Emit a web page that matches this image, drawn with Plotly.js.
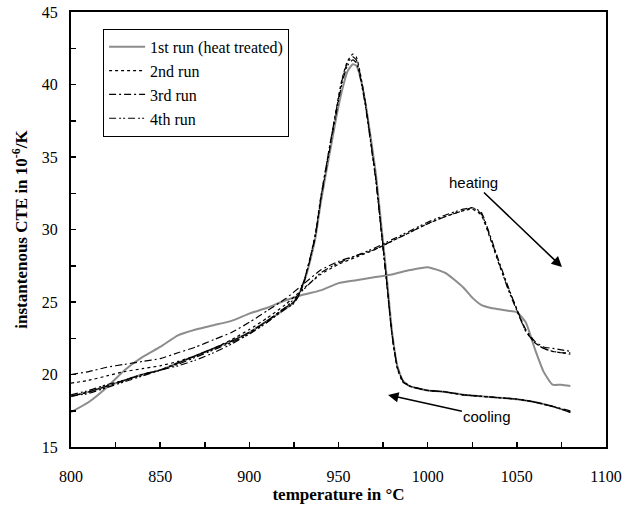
<!DOCTYPE html>
<html>
<head>
<meta charset="utf-8">
<script src="https://cdn.plot.ly/plotly-3.0.1.min.js"></script>
<style>html,body{margin:0;padding:0;background:#fff;}#chart{width:626px;height:508px;}</style>
</head>
<body>
<div id="chart"></div>
<script>
// Heating temperatures (°C), shared by all runs
var heatT = [800,810,820,830,840,850,860,870,880,890,900,910,920,930,940,950,960,970,980,990,1000,1010,1020,1025,1030,1035,1040,1045,1050,1055,1060,1065,1070,1075,1080];
// Cooling temperatures (°C), shared by all runs
var coolT = [1080,1070,1060,1050,1040,1030,1020,1010,1000,990,986,983,980,977,974,971,968,965,962,960,958,955,952,949,946,943,940,937,934,931,928,925,920,910,900,890,880,870,860,850,840,830,820,810,800];

// Run 1 (heat treated)
var heat1 = [17.4,18.1,19.1,20.3,21.2,21.9,22.7,23.1,23.4,23.7,24.2,24.6,25.1,25.5,25.8,26.3,26.5,26.7,26.9,27.2,27.4,27.0,26.0,25.3,24.8,24.6,24.5,24.4,24.3,23.6,21.8,20.2,19.3,19.3,19.2];
var cool1 = [17.4,17.8,18.1,18.3,18.4,18.5,18.6,18.8,18.9,19.2,19.6,20.6,23.0,26.8,30.3,33.8,36.4,38.8,40.6,41.3,41.4,40.9,39.6,37.9,35.9,33.9,31.8,29.4,27.8,26.5,25.6,25.0,24.5,23.7,22.9,22.3,21.8,21.3,20.8,20.3,20.0,19.6,19.2,18.8,18.5];
// Run 2
var heat2 = [19.4,19.6,19.9,20.2,20.4,20.6,20.9,21.3,21.8,22.4,23.1,23.9,24.8,25.9,26.9,27.6,28.1,28.6,29.2,29.8,30.4,30.9,31.3,31.4,31.0,29.4,27.6,26.0,24.5,23.0,22.2,21.8,21.6,21.5,21.4];
var cool2 = [17.4,17.8,18.1,18.3,18.4,18.5,18.6,18.8,18.9,19.2,19.5,20.4,22.8,26.5,30.0,33.5,36.1,38.8,40.9,41.9,42.1,41.6,40.4,38.5,36.4,34.3,32.2,29.7,28.0,26.6,25.6,25.0,24.6,23.7,22.9,22.3,21.8,21.3,20.8,20.3,20.0,19.6,19.2,18.8,18.5];
// Run 3
var heat3 = [20.0,20.2,20.5,20.7,20.9,21.1,21.5,21.9,22.4,22.9,23.6,24.4,25.2,26.2,27.2,27.8,28.2,28.6,29.2,29.8,30.4,30.9,31.3,31.5,31.2,29.6,27.8,26.1,24.5,23.1,22.3,21.9,21.8,21.7,21.6];
var cool3 = [17.5,17.8,18.1,18.3,18.4,18.5,18.6,18.8,18.9,19.2,19.5,20.5,22.8,26.4,29.9,33.4,36.2,38.8,40.8,41.7,41.9,41.5,40.3,38.4,36.4,34.3,32.1,29.6,28.0,26.6,25.6,25.0,24.6,23.7,22.9,22.3,21.8,21.3,20.8,20.3,20.0,19.6,19.2,18.8,18.5];
// Run 4
var heat4 = [18.6,18.9,19.3,19.6,20.0,20.3,20.6,21.0,21.5,22.1,22.8,23.6,24.6,25.8,27.0,27.7,28.2,28.7,29.3,29.9,30.5,31.0,31.4,31.5,31.1,29.5,27.7,25.9,24.4,23.0,22.2,21.8,21.6,21.5,21.5];
var cool4 = [17.4,17.8,18.1,18.3,18.4,18.5,18.6,18.8,18.9,19.2,19.6,20.5,22.7,26.3,29.8,33.3,36.0,38.6,40.6,41.5,41.7,41.3,40.1,38.2,36.2,34.1,32.0,29.5,27.9,26.5,25.5,24.9,24.5,23.6,22.8,22.2,21.7,21.2,20.7,20.3,19.9,19.5,19.1,18.7,18.5];

var runNames = ['1st run (heat treated)','2nd run','3rd run','4th run'];
var xTicks = [800,850,900,950,1000,1050,1100];
var yTicks = [15,20,25,30,35,40,45];

function loop(h, c) {
  return {x: heatT.concat([null], coolT), y: h.concat([null], c)};
}
var runs = [loop(heat1,cool1), loop(heat2,cool2), loop(heat3,cool3), loop(heat4,cool4)];
var styles = [
  {color:'#8c8c8c', width:2, dash:'solid', shape:'spline', smoothing:0.5},
  {color:'#000000', width:1.2, dash:'dot', shape:'spline', smoothing:0.5},
  {color:'#000000', width:1.2, dash:'7px,3px,2px,3px', shape:'spline', smoothing:0.5},
  {color:'#000000', width:1.2, dash:'7px,3px,2px,2px,2px,3px', shape:'spline', smoothing:0.5}
];
var traces = runs.map(function(r,i){
  return {x:r.x, y:r.y, type:'scatter', mode:'lines', name:runNames[i],
          line:styles[i], connectgaps:false};
});
var serif = 'Liberation Serif, Times New Roman, serif';
var sans = 'Liberation Sans, Arial, sans-serif';

var layout = {
  width:626, height:508,
  margin:{l:71, r:20, t:12, b:61},
  paper_bgcolor:'#fff', plot_bgcolor:'#fff',
  showlegend:true,
  legend:{x:0.06, y:0.961, xanchor:'left', yanchor:'top', bgcolor:'#fff',
          bordercolor:'#000', borderwidth:1, font:{family:serif, size:16, color:'#000'},
          tracegroupgap:0, itemwidth:36},
  xaxis:{range:[800,1100], tickvals:xTicks, ticktext:xTicks.map(String),
         showgrid:false, zeroline:false, showline:true, linecolor:'#000', linewidth:2, mirror:true,
         ticks:'inside', ticklen:5, tickwidth:1.5, tickcolor:'#000',
         minor:{dtick:25, ticks:'inside', ticklen:5, tickwidth:1.5, tickcolor:'#000', showgrid:false},
         tickfont:{family:serif, size:16, color:'#000'}, ticklabelstandoff:14,
         title:{text:'<b>temperature in °C</b>', font:{family:serif, size:17, color:'#000'}, standoff:4}},
  yaxis:{range:[15,45], tickvals:yTicks, ticktext:yTicks.map(String),
         showgrid:false, zeroline:false, showline:true, linecolor:'#000', linewidth:2, mirror:true,
         ticks:'inside', ticklen:5, tickwidth:1.5, tickcolor:'#000',
         minor:{dtick:2.5, ticks:'inside', ticklen:5, tickwidth:1.5, tickcolor:'#000', showgrid:false},
         tickfont:{family:serif, size:16, color:'#000'}, ticklabelstandoff:8,
         title:{text:'<b>instantenous CTE in 10<sup>-6</sup>/K</b>', font:{family:serif, size:17, color:'#000'}, standoff:10}},
  annotations:[
    {x:1075.3, y:27.41, ax:1025.7, ay:33.24, xref:'x', yref:'y', axref:'x', ayref:'y', text:'heating', showarrow:true,
     font:{family:sans, size:15, color:'#000'}, arrowhead:2, arrowsize:1.3, arrowwidth:1.6, arrowcolor:'#000'},
    {x:977.8, y:18.59, ax:1033.5, ay:17.07, xref:'x', yref:'y', axref:'x', ayref:'y', text:'cooling', showarrow:true,
     font:{family:sans, size:15, color:'#000'}, arrowhead:2, arrowsize:1.3, arrowwidth:1.6, arrowcolor:'#000'}
  ]
};
Plotly.newPlot('chart', traces, layout, {displayModeBar:false, staticPlot:true});
</script>
</body>
</html>
